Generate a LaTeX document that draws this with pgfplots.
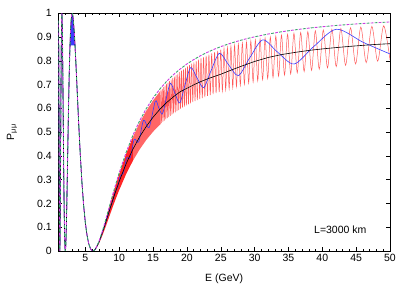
\documentclass[border=0pt]{standalone}
\usepackage{fontspec}
\setmainfont{Liberation Sans}
\usepackage{pgfplots}
\pgfplotsset{compat=1.18}
\definecolor{myred}{RGB}{255,0,0}
\definecolor{myblue}{RGB}{60,60,255}
\definecolor{mypurple}{RGB}{205,60,225}
\definecolor{mygreen}{RGB}{60,165,110}
\newcommand{\lblfont}{\fontsize{10.5}{12}\selectfont}
\begin{document}
\begin{tikzpicture}
\useasboundingbox (-58.3pt,-35pt) rectangle (350.7pt,251pt);
\begin{axis}[
  scale only axis, width=331.7pt, height=237.7pt,
  at={(0,0)}, anchor=south west,
  xmin=1, xmax=50, ymin=0, ymax=1,
  xtick={5,10,...,50},
  ytick={0,0.1,0.2,0.3,0.4,0.5,0.6,0.7,0.8,0.9,1},
  minor xtick={1,2,...,50},
  tick align=inside, major tick length=4pt, minor tick length=2pt,
  tick style={black, line width=0.5pt},
  axis line style={line width=0.6pt},
  /pgf/number format/assume math mode=true,
  ticklabel style={font=\lblfont},
  yticklabel style={/pgf/number format/fixed, /pgf/number format/precision=1, xshift=-3pt},
  xlabel={E (GeV)}, ylabel={P\textsubscript{μμ}},
  xlabel style={at={(axis description cs:0.5,-0.1165)}, anchor=center, font=\lblfont},
  ylabel style={at={(axis description cs:-0.1396,0.5)}, anchor=center, font=\lblfont},
]
% red band at low energy (dense oscillation)
\addplot[fill=myred, fill opacity=0.85, draw=none] coordinates {
(6.111,0)(6.5,.0087)(7,.0386)(7.5,.0810)(8,.1293)(8.5,.1798)(9,.2299)(9.5,.2783)(10,.3240)(11,.4070)(12,.4781)
(12,.3786)(11,.3223)(10,.2565)(9.5,.2204)(9,.1821)(8.5,.1424)(8,.1024)(7.5,.0641)(7,.0306)(6.5,.0069)
} -- cycle;
\addplot[fill=myred, fill opacity=0.6, draw=none] coordinates {
(12,.4781)(13,.5388)(14,.5901)(15,.6337)(16.06,.6730)
(16.06,.5329)(15,.5019)(14,.4673)(13,.4267)(12,.3786)
} -- cycle;
% red fast oscillation
\addplot[myred, opacity=0.65, line width=0.5pt, smooth] coordinates {
(16.06,.5329)(16.16,.6761)(16.26,.5380)(16.36,.6825)(16.46,.5430)(16.56,.6889)(16.67,.5483)(16.77,.6956)(16.88,.5536)(16.99,.7027)
(17.10,.5589)(17.21,.7087)(17.32,.5636)(17.43,.7148)(17.55,.5686)(17.67,.7213)(17.79,.5738)(17.91,.7279)(18.03,.5789)(18.15,.7339)
(18.28,.5836)(18.40,.7398)(18.53,.5884)(18.66,.7460)(18.79,.5932)(18.93,.7524)(19.06,.5982)(19.20,.7583)(19.34,.6028)(19.49,.7644)
(19.63,.6076)(19.78,.7704)(19.92,.6124)(20.08,.7765)(20.23,.6170)(20.38,.7819)(20.54,.6214)(20.70,.7877)(20.87,.6262)(21.03,.7936)
(21.20,.6306)(21.37,.7990)(21.54,.6348)(21.72,.8046)(21.90,.6394)(22.08,.8102)(22.27,.6437)(22.46,.8155)(22.65,.6479)(22.84,.8208)
(23.04,.6522)(23.25,.8262)(23.45,.6563)(23.66,.8313)(23.87,.6604)(24.09,.8367)(24.31,.6645)(24.54,.8417)(24.77,.6685)(25.00,.8468)
(25.24,.6729)(25.48,.8515)(25.73,.6777)(25.98,.8566)(26.24,.6824)(26.50,.8612)(26.77,.6873)(27.04,.8658)(27.32,.6919)(27.60,.8703)
(27.89,.6967)(28.19,.8750)(28.49,.7015)(28.80,.8795)(29.12,.7064)(29.44,.8838)(29.78,.7111)(30.11,.8881)(30.46,.7157)(30.81,.8921)
(31.18,.7205)(31.55,.8964)(31.93,.7255)(32.32,.9006)(32.72,.7302)(33.13,.9044)(33.54,.7351)(33.97,.9085)(34.42,.7399)(34.87,.9120)
(35.33,.7447)(35.81,.9158)(36.30,.7498)(36.81,.9194)(37.32,.7548)(37.86,.9230)(38.41,.7600)(38.97,.9264)(39.55,.7651)(40.15,.9297)
(40.77,.7703)(41.41,.9330)(42.06,.7757)(42.74,.9361)(43.44,.7811)(44.17,.9392)(44.92,.7867)(45.69,.9422)(46.49,.7925)(47.32,.9449)
(48.18,.7984)(49.07,.9478)(50.00,.8046)
};
% blue, low energy part
\addplot[myblue, line width=0.6pt] coordinates {
(1,.9696)(1.05,.9226)(1.075,.7748)(1.1,.5875)(1.125,.3946)(1.15,.2245)(1.175,.0965)(1.2,.0212)(1.2223,0)(1.25,.0300)(1.3,.2047)(1.35,.4572)(1.4,.7049)(1.45,.8902)(1.5,.9865)(1.528,1)(1.55,.992)(1.6,.922)(1.625,.8655)(1.65,.7989)(1.7,.6469)(1.75,.4880)(1.8,.3390)(1.85,.2110)(1.9,.1113)(1.95,.0437)(2.0,.0077)(2.037,0)(2.05,.0009)(2.1,.0197)(2.15,.0599)(2.2,.1168)(2.25,.1858)(2.3,.2630)(2.35,.3445)(2.4,.4276)(2.45,.5087)(2.5,.5868)(2.55,.6597)(2.6,.7261)(2.65,.7853)(2.7,.8385)
(2.750,.8829)(2.775,.865)(2.800,.9199)(2.825,.865)(2.850,.9494)(2.875,.865)(2.900,.9718)(2.925,.865)(2.950,.9874)(2.975,.865)(3.000,.9966)(3.025,.865)(3.050,1.0)(3.075,.865)(3.100,.998)(3.125,.865)(3.150,.9912)(3.175,.865)(3.200,.9801)(3.225,.865)(3.250,.9651)(3.275,.865)(3.300,.9469)(3.325,.865)(3.350,.9259)(3.375,.865)(3.400,.9022)(3.425,.865)(3.450,.8767)
(3.6,.7908)(3.8,.6669)(4.0,.5438)(4.25,.4032)(4.5,.2845)(4.75,.1896)(5.0,.1172)(5.25,.0650)(5.5,.0303)(5.75,.0097)(6.0,.0009)(6.111,0)(6.25,.0012)(6.5,.0085)(7,.0372)
};
% blue oscillation
\addplot[myblue, line width=0.6pt, smooth] coordinates {
(7,.0372)(7.36,.0642)(7.6,.0876)(7.84,.1043)(8.11,.1330)(8.39,.1520)(8.69,.1866)(9.02,.2071)(9.37,.2472)(9.75,.2670)(10.16,.3162)(10.6,.3277)(11.09,.3906)(11.63,.3930)(12.22,.4697)(12.87,.4587)(13.6,.5503)(14.41,.5192)(15.33,.6301)(15.83,.6030)(16.37,.5759)(16.94,.6408)(17.56,.7056)(18.22,.6643)(18.94,.6230)(19.71,.6973)(20.55,.7716)(21.47,.7296)(22.47,.6875)(23.58,.7597)(24.8,.8318)(26.12,.7849)(27.6,.7380)(29.29,.8131)(31.2,.8882)(33.36,.8375)(35.84,.7868)(38.72,.8598)(42.1,.9328)(46.1,.877)(50,.829)
};
% black average
\addplot[black, line width=0.6pt] coordinates {
(1,.9696)(1.05,.9226)(1.075,.7748)(1.1,.5875)(1.125,.3946)(1.15,.2245)(1.175,.0965)(1.2,.0212)(1.2223,0)(1.25,.0300)(1.3,.2047)(1.35,.4572)(1.4,.7049)(1.45,.8902)(1.5,.9865)(1.528,1)(1.55,.992)(1.6,.922)(1.625,.8655)(1.65,.7989)(1.7,.6469)(1.75,.4880)(1.8,.3390)(1.85,.2110)(1.9,.1113)(1.95,.0437)(2.0,.0077)(2.037,0)(2.05,.0009)(2.1,.0197)(2.15,.0599)(2.2,.1168)(2.25,.1858)(2.3,.2630)(2.35,.3445)(2.4,.4276)(2.45,.5087)(2.5,.5868)(2.55,.6597)(2.6,.7261)(2.65,.7853)(2.7,.8385)(2.75,.8829)(2.8,.9199)(2.85,.9494)(2.9,.9718)(2.95,.9874)(3.0,.9966)(3.056,1)(3.1,.998)(3.2,.9801)(3.4,.9022)(3.6,.7908)(3.8,.6669)(4.0,.5438)(4.25,.4032)(4.5,.2845)(4.75,.1896)(5.0,.1172)(5.25,.0650)(5.5,.0303)(5.75,.0097)(6.0,.0009)(6.111,0)
(6.25,.0012)(6.5,.0085)(7,.0372)(7.5,.0764)(8,.1201)(8.5,.1655)(9,.2101)(9.5,.2528)(10,.2927)(11,.3657)(12,.4272)(13,.4797)(14,.5242)(15,.5630)(16,.5961)(17,.6245)(18,.6488)(19,.6699)(20,.6845)(21,.6989)(22,.7122)(23,.7236)(24,.7339)(25,.7436)(26,.7550)(27,.7662)(28,.7769)(29,.7871)(30,.7974)(32,.8141)(34,.8265)(36,.8356)(38,.8438)(40,.8501)(42,.8557)(44,.8607)(46,.8652)(48,.8693)(50,.8721)
};
% upper envelope, green dashed
\addplot[mygreen, line width=0.9pt, dash pattern=on 2.8pt off 5.2pt] coordinates {
(1,.9696)(1.05,.9226)(1.075,.7748)(1.1,.5875)(1.125,.3946)(1.15,.2245)(1.175,.0965)(1.2,.0212)(1.2223,0)(1.25,.0300)(1.3,.2047)(1.35,.4572)(1.4,.7049)(1.45,.8902)(1.5,.9865)(1.528,1)(1.55,.992)(1.6,.922)(1.625,.8655)(1.65,.7989)(1.7,.6469)(1.75,.4880)(1.8,.3390)(1.85,.2110)(1.9,.1113)(1.95,.0437)(2.0,.0077)(2.037,0)(2.05,.0009)(2.1,.0197)(2.15,.0599)(2.2,.1168)(2.25,.1858)(2.3,.2630)(2.35,.3445)(2.4,.4276)(2.45,.5087)(2.5,.5868)(2.55,.6597)(2.6,.7261)(2.65,.7853)(2.7,.8385)(2.75,.8829)(2.8,.9199)(2.85,.9494)(2.9,.9718)(2.95,.9874)(3.0,.9966)(3.056,1)(3.1,.998)(3.2,.9801)(3.4,.9022)(3.6,.7908)(3.8,.6669)(4.0,.5438)(4.25,.4032)(4.5,.2845)(4.75,.1896)(5.0,.1172)(5.25,.0650)(5.5,.0303)(5.75,.0097)(6.0,.0009)(6.111,0)
(6.25,.0012)(6.5,.0088)(7,.0392)(7.5,.0822)(8,.1313)(8.5,.1825)(9,.2334)(9.5,.2825)(10,.3289)(11,.4132)(12,.4854)(13,.5470)(14,.5991)(15,.6434)(16,.6812)(17,.7137)(18,.7415)(19,.7656)(20,.7868)(21,.8052)(22,.8214)(23,.8356)(24,.8484)(25,.8597)(26,.8698)(27,.8787)(28,.8869)(29,.8944)(30,.9010)(32,.9127)(34,.9224)(36,.9305)(38,.9376)(40,.9435)(42,.9487)(44,.9532)(46,.9571)(48,.9605)(50,.9636)
};
% upper envelope, purple dashed
\addplot[mypurple, line width=0.9pt, dash pattern=on 2.8pt off 5.2pt, dash phase=4pt] coordinates {
(1,.9696)(1.05,.9226)(1.075,.7748)(1.1,.5875)(1.125,.3946)(1.15,.2245)(1.175,.0965)(1.2,.0212)(1.2223,0)(1.25,.0300)(1.3,.2047)(1.35,.4572)(1.4,.7049)(1.45,.8902)(1.5,.9865)(1.528,1)(1.55,.992)(1.6,.922)(1.625,.8655)(1.65,.7989)(1.7,.6469)(1.75,.4880)(1.8,.3390)(1.85,.2110)(1.9,.1113)(1.95,.0437)(2.0,.0077)(2.037,0)(2.05,.0009)(2.1,.0197)(2.15,.0599)(2.2,.1168)(2.25,.1858)(2.3,.2630)(2.35,.3445)(2.4,.4276)(2.45,.5087)(2.5,.5868)(2.55,.6597)(2.6,.7261)(2.65,.7853)(2.7,.8385)(2.75,.8829)(2.8,.9199)(2.85,.9494)(2.9,.9718)(2.95,.9874)(3.0,.9966)(3.056,1)(3.1,.998)(3.2,.9801)(3.4,.9022)(3.6,.7908)(3.8,.6669)(4.0,.5438)(4.25,.4032)(4.5,.2845)(4.75,.1896)(5.0,.1172)(5.25,.0650)(5.5,.0303)(5.75,.0097)(6.0,.0009)(6.111,0)
(6.25,.0012)(6.5,.0088)(7,.0392)(7.5,.0822)(8,.1313)(8.5,.1825)(9,.2334)(9.5,.2825)(10,.3289)(11,.4132)(12,.4854)(13,.5470)(14,.5991)(15,.6434)(16,.6812)(17,.7137)(18,.7415)(19,.7656)(20,.7868)(21,.8052)(22,.8214)(23,.8356)(24,.8484)(25,.8597)(26,.8698)(27,.8787)(28,.8869)(29,.8944)(30,.9010)(32,.9127)(34,.9224)(36,.9305)(38,.9376)(40,.9435)(42,.9487)(44,.9532)(46,.9571)(48,.9605)(50,.9636)
};
\node[font=\lblfont] at (axis cs:42.66,0.091) {L=3000 km};
\end{axis}
\end{tikzpicture}
\end{document}
